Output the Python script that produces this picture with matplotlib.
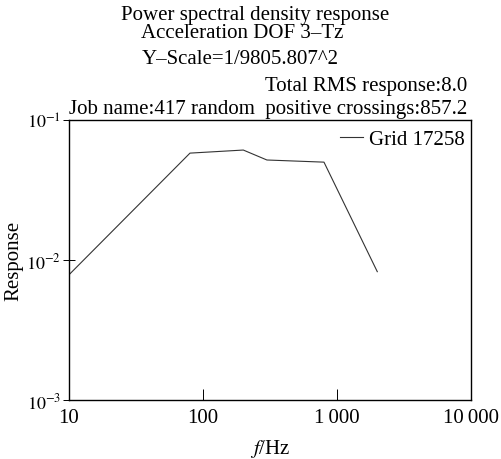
import numpy as np
import matplotlib
matplotlib.use('Agg')
import matplotlib.pyplot as plt
from matplotlib import rcParams
from matplotlib.ticker import FixedLocator, FixedFormatter, NullLocator

rcParams['font.family'] = 'Liberation Serif'
rcParams['mathtext.fontset'] = 'stix'

# PSD response
freq = [10, 80, 200, 300, 800, 2000]
psd = [0.00785, 0.058, 0.061, 0.0518, 0.050, 0.00826]

x_ticks = [10, 100, 1000, 10000]
x_tick_labels = ['10', '100', '1\u2009000', '10\u2009000']
y_ticks = [1e-3, 1e-2, 1e-1]
y_tick_labels = [r'$10^{-3}$', r'$10^{-2}$', r'$10^{-1}$']

fs = 15

fig = plt.figure(figsize=(5.01, 4.60), dpi=100)
ax = fig.add_axes([0.1377, 0.128, 0.8023, 0.609])

ax.plot(freq, psd, '-', color='#333333', linewidth=0.8, label='Grid 17258')
ax.set_xscale('log')
ax.set_yscale('log')
ax.set_xlim(10, 10000)
ax.set_ylim(1e-3, 1e-1)

ax.xaxis.set_major_locator(FixedLocator(x_ticks))
ax.xaxis.set_major_formatter(FixedFormatter(x_tick_labels))
ax.xaxis.set_minor_locator(NullLocator())
ax.yaxis.set_major_locator(FixedLocator(y_ticks))
ax.yaxis.set_major_formatter(FixedFormatter(y_tick_labels))
ax.yaxis.set_minor_locator(NullLocator())

ax.tick_params(axis='x', direction='in', length=8, width=0.7, labelsize=fs, pad=6)
ax.tick_params(axis='y', direction='inout', length=9, width=0.7, labelsize=fs - 2, pad=1)
for s in ax.spines.values():
    s.set_linewidth(1.0)

ax.set_xlabel(r'$\mathit{f}$/Hz', fontsize=fs, labelpad=7)
ax.set_ylabel('Response', fontsize=fs, labelpad=2)

leg = ax.legend(loc='upper right', frameon=False, fontsize=fs, handlelength=1.1,
                handletextpad=0.3, borderaxespad=0.0, bbox_to_anchor=(1.005, 0.995))

fig.text(0.509, 0.967, 'Power spectral density response', ha='center', va='center', fontsize=fs)
fig.text(0.484, 0.928, 'Acceleration DOF 3\u2013Tz', ha='center', va='center', fontsize=fs)
fig.text(0.479, 0.870, 'Y\u2013Scale=1/9805.807^2', ha='center', va='center', fontsize=fs)
fig.text(0.932, 0.811, 'Total RMS response:8.0', ha='right', va='center', fontsize=fs)
fig.text(0.932, 0.763, 'Job name:417 random  positive crossings:857.2', ha='right', va='center', fontsize=fs)

fig.savefig('out.png', dpi=100)
